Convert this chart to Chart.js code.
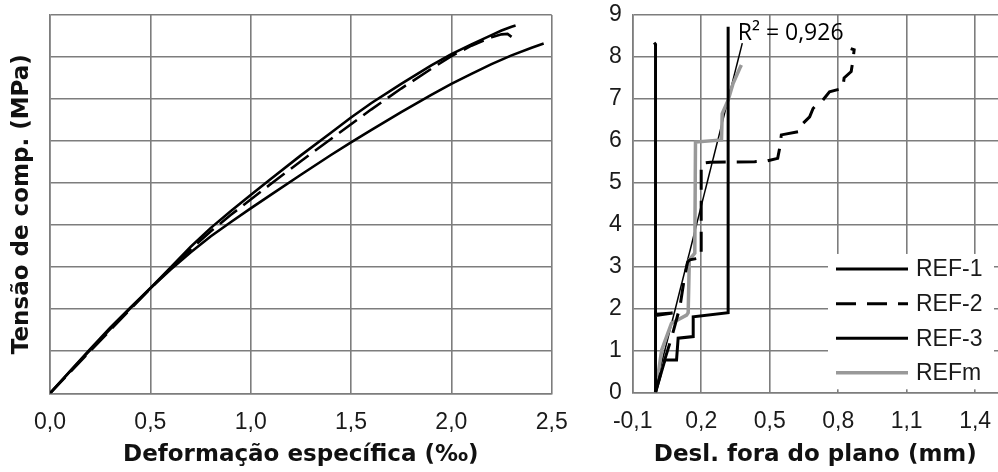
<!DOCTYPE html>
<html><head><meta charset="utf-8">
<script src="https://cdn.jsdelivr.net/npm/chart.js@4.4.0/dist/chart.umd.min.js"></script>
<style>
html,body{margin:0;padding:0;background:#fff;overflow:hidden;width:998px;height:472px}
#c1{position:absolute;left:0;top:0}
#c2{position:absolute;left:590px;top:0}
</style></head><body>
<canvas id="c1" width="590" height="472"></canvas>
<canvas id="c2" width="408" height="472"></canvas>
<script>
// ---------- Left panel data: stress vs strain ----------
const leftXTicks = [0, 0.5, 1.0, 1.5, 2.0, 2.5];
const leftYTicks = [0, 1, 2, 3, 4, 5, 6, 7, 8, 9];
const ref1StrainX = [0, 0.1, 0.2, 0.3, 0.4, 0.5, 0.6, 0.7, 0.8, 0.9, 1.0, 1.1, 1.25, 1.4, 1.5, 1.6, 1.75, 1.9, 2.0, 2.1, 2.2, 2.25, 2.3, 2.32];
const ref1StressY = [0, 0.52, 1.03, 1.53, 2.02, 2.5, 2.99, 3.48, 3.93, 4.33, 4.72, 5.1, 5.66, 6.2, 6.56, 6.9, 7.36, 7.8, 8.07, 8.3, 8.52, 8.63, 8.72, 8.75];
const ref2StrainX = [0, 0.1, 0.2, 0.3, 0.4, 0.5, 0.6, 0.7, 0.8, 0.9, 1.0, 1.1, 1.25, 1.4, 1.5, 1.6, 1.75, 1.9, 2.0, 2.1, 2.2, 2.25, 2.28, 2.3];
const ref2StressY = [0, 0.5, 1.0, 1.5, 2.0, 2.49, 2.97, 3.42, 3.85, 4.24, 4.61, 4.98, 5.52, 6.05, 6.4, 6.75, 7.25, 7.72, 8.02, 8.27, 8.47, 8.54, 8.55, 8.48];
const ref3StrainX = [0, 0.1, 0.2, 0.3, 0.4, 0.5, 0.6, 0.7, 0.8, 0.9, 1.0, 1.1, 1.25, 1.4, 1.5, 1.6, 1.75, 1.9, 2.0, 2.1, 2.2, 2.3, 2.4, 2.46];
const ref3StressY = [0, 0.53, 1.05, 1.56, 2.04, 2.5, 2.94, 3.35, 3.73, 4.07, 4.4, 4.72, 5.2, 5.67, 5.97, 6.26, 6.69, 7.1, 7.36, 7.6, 7.83, 8.04, 8.22, 8.32];

// ---------- Right panel data: stress vs out-of-plane displacement ----------
const rightXTicks = [-0.1, 0.2, 0.5, 0.8, 1.1, 1.4];
const rightYTicks = [0, 1, 2, 3, 4, 5, 6, 7, 8, 9];
const ref1DispX = [0, 0, 0.075, 0.002, 0, -0.006];
const ref1DispY = [0, 1.83, 1.89, 1.86, 8.3, 8.34];
const ref2DispX = [0, 0.03, 0.07, 0.107, 0.125, 0.14, 0.15, 0.2, 0.2, 0.24, 0.434, 0.49, 0.535, 0.545, 0.551, 0.63, 0.636, 0.675, 0.69, 0.697, 0.733, 0.762, 0.82, 0.826, 0.857, 0.864, 0.87, 0.855];
const ref2DispY = [0, 0.6, 1.3, 2.04, 2.68, 3.1, 3.16, 3.21, 5.46, 5.49, 5.5, 5.52, 5.58, 5.86, 6.14, 6.22, 6.36, 6.57, 6.77, 6.81, 6.97, 7.17, 7.25, 7.5, 7.65, 7.9, 8.17, 8.2];
const ref3DispX = [0, 0.041, 0.092, 0.099, 0.165, 0.165, 0.318, 0.318];
const ref3DispY = [0, 0.77, 0.77, 1.29, 1.33, 1.80, 1.9, 8.72];
const refmDispX = [0, 0.027, 0.07, 0.136, 0.143, 0.148, 0.172, 0.175, 0.289, 0.292, 0.318, 0.34, 0.369, 0.376];
const refmDispY = [0, 1.01, 1.65, 1.84, 1.9, 3.16, 3.32, 5.97, 6.02, 6.65, 6.97, 7.37, 7.73, 7.81];
const trendX = [0, 0.38];
const trendY = [0.12, 8.33];
const r2Label = 'R² = 0,926';
const seriesNames = ['REF-1', 'REF-2', 'REF-3', 'REFm'];

const pts = (xs, ys) => xs.map((x, i) => ({x: x, y: ys[i]}));
const fmt = v => (Math.round(v * 10) / 10).toFixed(1).replace('.', ',');
const GRID = '#7d7d7d';
const tickFont = {family: '"Liberation Sans", Arial, sans-serif', size: 23};
const titleFont = {family: '"DejaVu Sans", sans-serif', size: 23, weight: 'bold'};
const lineDs = (label, data, color, width, dash) => ({
  label, data, borderColor: color, backgroundColor: color, borderWidth: width,
  borderDash: dash || [], showLine: true, pointRadius: 0, tension: 0, fill: false
});

// ---------- Left chart ----------
new Chart(document.getElementById('c1'), {
  type: 'scatter',
  data: {datasets: [
    lineDs(seriesNames[0], pts(ref1StrainX, ref1StressY), '#000', 2.6),
    lineDs(seriesNames[1], pts(ref2StrainX, ref2StressY), '#000', 2.6, [22, 8]),
    lineDs(seriesNames[2], pts(ref3StrainX, ref3StressY), '#000', 2.6)
  ]},
  options: {
    responsive: false, animation: false, devicePixelRatio: 1,
    layout: {padding: {top: 15, right: 38.3, left: 0, bottom: 0}},
    plugins: {legend: {display: false}, tooltip: {enabled: false}},
    scales: {
      x: {
        type: 'linear', min: 0, max: 2.5,
        afterBuildTicks: s => { s.ticks = leftXTicks.map(v => ({value: v})); },
        afterFit: s => { s.height = 78.7; s.paddingLeft = 0; s.paddingRight = 0; },
        grid: {color: GRID, lineWidth: 1.6, drawTicks: false},
        border: {color: GRID, width: 1.6},
        ticks: {font: tickFont, color: '#1a1a1a', padding: 16, maxRotation: 0, callback: v => fmt(v)},
        title: {display: true, text: 'Deformação específica (‰)', font: titleFont, color: '#111', padding: {top: 0, bottom: 3}}
      },
      y: {
        type: 'linear', min: 0, max: 9,
        afterBuildTicks: s => { s.ticks = leftYTicks.map(v => ({value: v})); },
        afterFit: s => { s.width = 50; s.paddingTop = 0; s.paddingBottom = 0; },
        grid: {color: GRID, lineWidth: 1.6, drawTicks: false},
        border: {color: GRID, width: 1.6},
        ticks: {display: false},
        title: {display: true, text: 'Tensão de comp. (MPa)', font: titleFont, color: '#111', padding: {top: 8, bottom: 0}}
      }
    }
  }
});

// ---------- Right chart plugins ----------
const insideLegend = {
  id: 'insideLegend',
  afterDraw(chart) {
    const ctx = chart.ctx, a = chart.chartArea, ys = chart.scales.y;
    const left = a.right - 170, right = a.right - 4;
    const top = ys.getPixelForValue(3.3), bottom = a.bottom - 3;
    ctx.save();
    ctx.fillStyle = '#fff';
    ctx.fillRect(left, top, right - left, bottom - top);
    ctx.font = '23px "Liberation Sans", Arial, sans-serif';
    ctx.textBaseline = 'middle';
    ctx.textAlign = 'left';
    const y0 = ys.getPixelForValue(2.94);
    seriesNames.forEach((name, i) => {
      const ds = chart.data.datasets[i];
      const y = y0 + i * 34.6;
      ctx.beginPath();
      ctx.strokeStyle = ds.borderColor;
      ctx.lineWidth = ds.borderWidth;
      ctx.setLineDash(ds.borderDash || []);
      ctx.moveTo(left + 8, y);
      ctx.lineTo(left + 80, y);
      ctx.stroke();
      ctx.setLineDash([]);
      ctx.fillStyle = '#1a1a1a';
      ctx.fillText(name, left + 88, y + 1);
    });
    ctx.restore();
  }
};
const r2Text = {
  id: 'r2Text',
  afterDraw(chart) {
    const ctx = chart.ctx, xs = chart.scales.x, ys = chart.scales.y;
    ctx.save();
    ctx.font = '23px "Open Sans", sans-serif';
    ctx.fillStyle = '#000';
    ctx.textBaseline = 'middle';
    ctx.textAlign = 'left';
    ctx.fillText(r2Label, xs.getPixelForValue(0.36), ys.getPixelForValue(8.57));
    ctx.restore();
  }
};

// ---------- Right chart ----------
new Chart(document.getElementById('c2'), {
  type: 'scatter',
  data: {datasets: [
    lineDs(seriesNames[0], pts(ref1DispX, ref1DispY), '#000', 3),
    lineDs(seriesNames[1], pts(ref2DispX, ref2DispY), '#000', 3, [20, 11]),
    lineDs(seriesNames[2], pts(ref3DispX, ref3DispY), '#000', 3),
    lineDs(seriesNames[3], pts(refmDispX, refmDispY), '#999999', 3.5),
    lineDs('Linear (REFm)', pts(trendX, trendY), '#000', 1.5)
  ]},
  options: {
    responsive: false, animation: false, devicePixelRatio: 1,
    layout: {padding: {top: 15, right: 0, left: 0, bottom: 0}},
    plugins: {legend: {display: false}, tooltip: {enabled: false}},
    scales: {
      x: {
        type: 'linear', min: -0.1, max: 1.5,
        afterBuildTicks: s => { s.ticks = rightXTicks.map(v => ({value: v})); },
        afterFit: s => { s.height = 79.7; s.paddingLeft = 0; s.paddingRight = 0; },
        grid: {color: GRID, lineWidth: 1.6, drawTicks: false},
        border: {color: GRID, width: 1.6},
        ticks: {font: tickFont, color: '#1a1a1a', padding: 16, maxRotation: 0, callback: v => fmt(v)},
        title: {display: true, text: 'Desl. fora do plano (mm)', font: titleFont, color: '#111', padding: {top: 0, bottom: 3}}
      },
      y: {
        type: 'linear', min: 0, max: 9,
        afterBuildTicks: s => { s.ticks = rightYTicks.map(v => ({value: v})); },
        afterFit: s => { s.width = 42.7; s.paddingTop = 0; s.paddingBottom = 0; },
        grid: {color: GRID, lineWidth: 1.6, drawTicks: false},
        border: {color: GRID, width: 1.6},
        ticks: {font: tickFont, color: '#1a1a1a', padding: 11, callback: v => String(v)},
        title: {display: false}
      }
    }
  },
  plugins: [insideLegend, r2Text]
});
</script>
</body></html>
